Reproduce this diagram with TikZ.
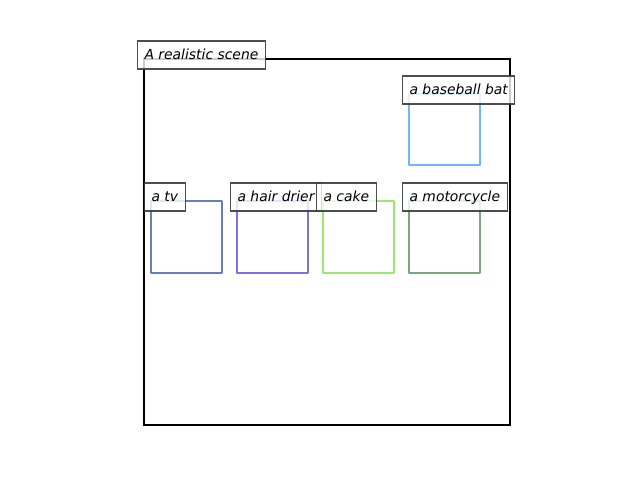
\documentclass[tikz,border=0pt]{standalone}
\usepackage{fontspec}
\setmainfont{DejaVu Sans}
\definecolor{ctv}{HTML}{6580B8}
\definecolor{chd}{HTML}{7A72E6}
\definecolor{ccake}{HTML}{9BE870}
\definecolor{cmoto}{HTML}{7AA882}
\definecolor{cbat}{HTML}{6CB6FF}
\definecolor{lblgray}{HTML}{3A3A3A}
\begin{document}
\begin{tikzpicture}[x=1pt,y=-1pt,
  objbox/.style={line width=2.6pt,line join=round},
  lbl/.style={draw=lblgray,line width=1.1pt,fill=white,fill opacity=0.8,draw opacity=0.9,text opacity=1,
    anchor=base west,inner xsep=7pt,inner ysep=0pt,text height=18pt,text depth=10pt,
    font=\fontsize{13.9}{16}\selectfont\itshape,xshift=-7pt}]
\useasboundingbox (0,0) rectangle (640,480);
\draw[line width=2.4pt] (144,59) rectangle (510,425);
\draw[objbox,draw=ctv] (151,201) rectangle (222,273);
\draw[objbox,draw=chd] (237,201) rectangle (308,273);
\draw[objbox,draw=ccake] (323,201) rectangle (394,273);
\draw[objbox,draw=cmoto] (409,201) rectangle (480,273);
\draw[objbox,draw=cbat] (409,94) rectangle (480,165);
\node[lbl] (scene) at (144,59) {A realistic scene};
\node[lbl] (bat) at (409,94) {a baseball bat};
\node[lbl] (tv) at (151,201) {a tv};
\node[lbl] (hd) at (237,201) {a hair drier};
\node[lbl] (cake) at (323,201) {a cake};
\node[lbl] (moto) at (409,201) {a motorcycle};
\end{tikzpicture}
\end{document}
